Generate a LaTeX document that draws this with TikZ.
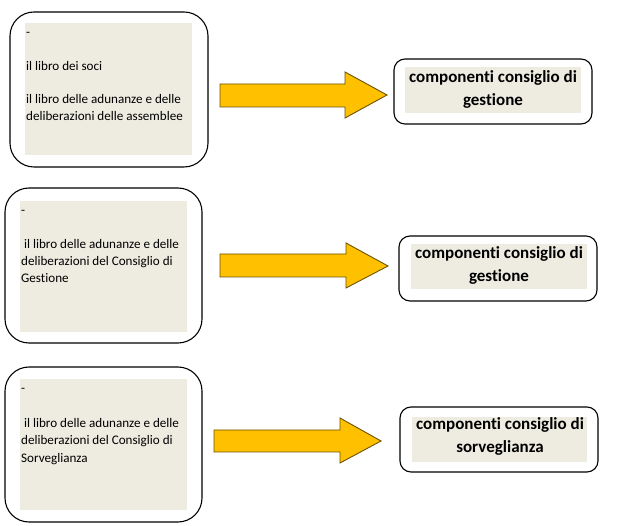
\documentclass[tikz,border=0pt]{standalone}
\usepackage{fontspec}
\setmainfont{Carlito}[Ligatures=CommonOff]
\begin{document}
\begin{tikzpicture}[x=1pt,y=-1pt,
  lbox/.style={draw=black, line width=1.1pt, rounded corners=24pt, fill=white},
  rbox/.style={draw=black, line width=1.1pt, rounded corners=11pt, fill=white},
  bg/.style={fill=beige, draw=none},
  ltxt/.style={anchor=base west, inner sep=0pt, font=\fontsize{13.1pt}{17pt}\selectfont},
  rtxt/.style={anchor=base, inner sep=0pt, font=\fontsize{17pt}{23pt}\selectfont\bfseries},
  blockarrow/.style={fill=arrowfill, draw=arrowdraw, line width=0.9pt, line join=miter}]
\definecolor{beige}{HTML}{EEECE1}
\definecolor{arrowfill}{HTML}{FFC000}
\definecolor{arrowdraw}{HTML}{6B5200}
\useasboundingbox (0,0) rectangle (624,526);

% ---------- row 1 ----------
\draw[lbox] (10,12) rectangle (208,167);
\fill[bg] (25,23) rectangle (192,155);
\node[ltxt] (l1a) at (26,37) {-};
\node[ltxt] (l1b) at (26,71) {il libro dei soci};
\node[ltxt] (l1c) at (26,104) {il libro delle adunanze e delle};
\node[ltxt] (l1d) at (26,121) {deliberazioni delle assemblee};

\draw[rbox] (394,59) rectangle (592,124);
\fill[bg] (405,67) rectangle (581,113);
\node[rtxt] (r1a) at (493,83) {componenti consiglio di};
\node[rtxt] (r1b) at (493,106) {gestione};

\draw[blockarrow] (220,84) -- (345,84) -- (345,72) -- (387,95)
  -- (345,118) -- (345,107) -- (220,107) -- cycle;

% ---------- row 2 ----------
\draw[lbox] (5,188) rectangle (202,343);
\fill[bg] (20,201) rectangle (187,332);
\node[ltxt] (l2a) at (21,215) {-};
\node[ltxt] (l2b) at (21,249) {\ il libro delle adunanze e delle};
\node[ltxt] (l2c) at (21,266) {deliberazioni del Consiglio di};
\node[ltxt] (l2d) at (21,283) {Gestione};

\draw[rbox] (399,236) rectangle (597,301);
\fill[bg] (411,244) rectangle (587,289);
\node[rtxt] (r2a) at (499,259) {componenti consiglio di};
\node[rtxt] (r2b) at (499,282) {gestione};

\draw[blockarrow] (220,254) -- (346,254) -- (346,243) -- (388,266)
  -- (346,288) -- (346,277) -- (220,277) -- cycle;

% ---------- row 3 ----------
\draw[lbox] (5,367) rectangle (202,522);
\fill[bg] (20,379) rectangle (187,510);
\node[ltxt] (l3a) at (21,393) {-};
\node[ltxt] (l3b) at (21,428) {\ il libro delle adunanze e delle};
\node[ltxt] (l3c) at (21,445) {deliberazioni del Consiglio di};
\node[ltxt] (l3d) at (21,462) {Sorveglianza};

\draw[rbox] (400,407) rectangle (598,472);
\fill[bg] (412,417) rectangle (587,462);
\node[rtxt] (r3a) at (500,430) {componenti consiglio di};
\node[rtxt] (r3b) at (500,453) {sorveglianza};

\draw[blockarrow] (214,430) -- (340,430) -- (340,418) -- (381,441)
  -- (340,463) -- (340,452) -- (214,452) -- cycle;
\end{tikzpicture}
\end{document}
